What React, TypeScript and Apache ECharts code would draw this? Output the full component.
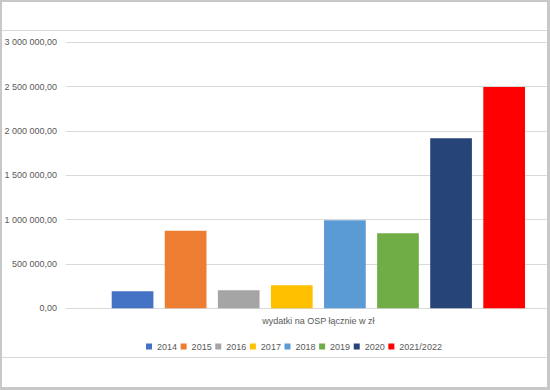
import React, { useEffect, useRef } from "react";
import * as echarts from "echarts";

const categories = ["wydatki na OSP łącznie w zł"];
const seriesNames = ["2014", "2015", "2016", "2017", "2018", "2019", "2020", "2021/2022"];
const seriesValues = [192000, 875000, 203000, 259000, 992000, 846000, 1917000, 2496000];
const seriesColors = ["#4472C4", "#ED7D31", "#A5A5A5", "#FFC000", "#5B9BD5", "#70AD47", "#264478", "#FF0000"];
const yMin = 0;
const yMax = 3000000;
const yInterval = 500000;

function formatPl(v: number): string {
  const [intPart, dec] = v.toFixed(2).split(".");
  const grouped = intPart.replace(/\B(?=(\d{3})+(?!\d))/g, " ");
  return grouped + "," + dec;
}

export default function App() {
  const ref = useRef<HTMLDivElement>(null);
  useEffect(() => {
    if (!ref.current) return;
    const chart = echarts.init(ref.current, undefined, { renderer: "svg" });
    const font = "'Liberation Sans', Arial, sans-serif";
    chart.setOption({
      animation: false,
      backgroundColor: "#ffffff",
      textStyle: { fontFamily: font },
      grid: { left: 66, right: 1.3, top: 42.3, bottom: 81.7, containLabel: false },
      legend: {
        data: seriesNames,
        left: 141,
        top: 336,
        itemWidth: 6,
        itemHeight: 6,
        itemGap: 3.6,
        icon: "rect",
        textStyle: { fontSize: 9, color: "#595959", fontFamily: font, lineHeight: 11 },
      },
      xAxis: {
        type: "category",
        data: categories,
        axisLine: { show: true, lineStyle: { color: "#d9d9d9" } },
        axisTick: { show: false },
        axisLabel: { fontSize: 9, color: "#595959", margin: 8, fontFamily: font },
      },
      yAxis: {
        type: "value",
        min: yMin,
        max: yMax,
        interval: yInterval,
        axisLine: { show: false },
        axisTick: { show: false },
        splitLine: { lineStyle: { color: "#d9d9d9", width: 1 } },
        axisLabel: {
          fontSize: 9,
          color: "#595959",
          margin: 9,
          fontFamily: font,
          formatter: (v: number) => formatPl(v),
        },
      },
      series: seriesNames.map((name, i) => ({
        name,
        type: "bar",
        data: [seriesValues[i]],
        barWidth: 41.7,
        barGap: "27.3%",
        itemStyle: { color: seriesColors[i] },
      })),
      graphic: [
        { type: "line", shape: { x1: 2, y1: 30.5, x2: 547, y2: 30.5 }, style: { stroke: "#d9d9d9", lineWidth: 1 }, z: 100 },
        { type: "line", shape: { x1: 2, y1: 357.5, x2: 547, y2: 357.5 }, style: { stroke: "#d9d9d9", lineWidth: 1 }, z: 100 },
        { type: "rect", shape: { x: 0, y: 0, width: 572, height: 2 }, style: { fill: "#c8c8c8" }, z: 101 },
        { type: "rect", shape: { x: 0, y: 0, width: 2, height: 390 }, style: { fill: "#c8c8c8" }, z: 101 },
        { type: "rect", shape: { x: 547, y: 0, width: 25, height: 390 }, style: { fill: "#c8c8c8" }, z: 101 },
        { type: "rect", shape: { x: 0, y: 387, width: 572, height: 3 }, style: { fill: "#c8c8c8" }, z: 101 },
      ],
    });
    return () => chart.dispose();
  }, []);
  return (
    <div style={{ position: "absolute", left: 0, top: 0, width: 550, height: 390, overflow: "hidden" }}>
      <div ref={ref} style={{ width: 572, height: 390 }} />
    </div>
  );
}
